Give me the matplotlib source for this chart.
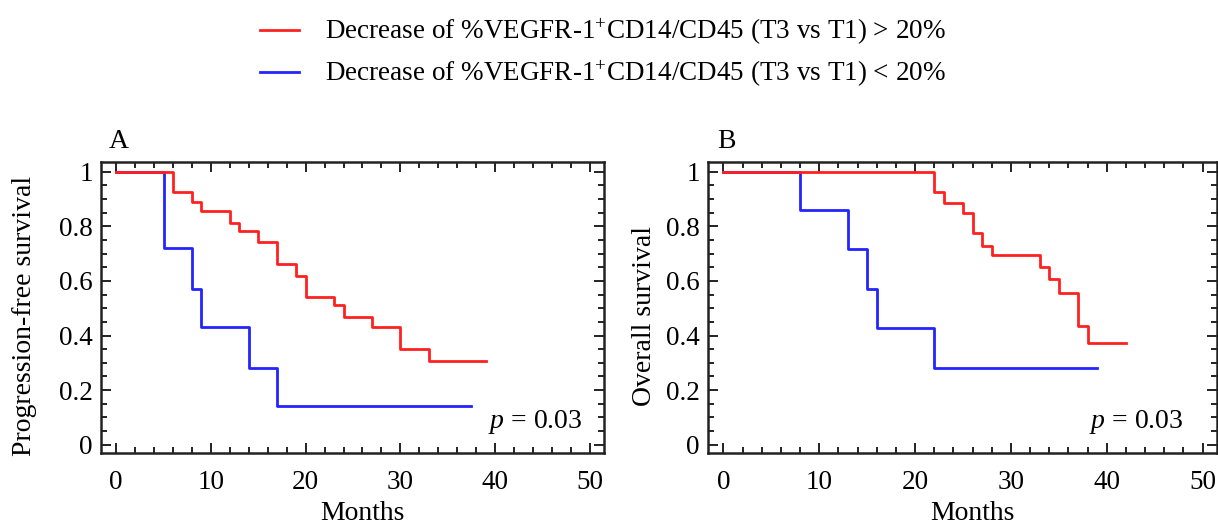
import matplotlib
matplotlib.use("Agg")
import matplotlib.pyplot as plt
from matplotlib.ticker import MultipleLocator, FuncFormatter
from matplotlib.lines import Line2D

plt.rcParams["font.family"] = "Liberation Serif"
plt.rcParams["mathtext.fontset"] = "custom"
plt.rcParams["mathtext.rm"] = "Liberation Serif"
plt.rcParams["mathtext.it"] = "Liberation Serif:italic"

# panel A: progression-free survival (months, survival fraction)
pfs_hi_t = [0, 6, 8, 9, 12, 13, 15, 17, 19, 20, 23, 24, 27, 30, 33, 39]
pfs_hi_s = [1, 0.927, 0.890, 0.854, 0.811, 0.781, 0.744, 0.663, 0.619, 0.541,
            0.511, 0.467, 0.431, 0.350, 0.308, 0.308]
pfs_lo_t = [0, 5, 8, 9, 14, 17, 37.5]
pfs_lo_s = [1, 0.719, 0.571, 0.431, 0.282, 0.142, 0.142]

# panel B: overall survival
os_hi_t = [0, 22, 23, 25, 26, 27, 28, 33, 34, 35, 37, 38, 42]
os_hi_s = [1, 0.927, 0.884, 0.848, 0.774, 0.729, 0.693, 0.649, 0.607, 0.557,
           0.435, 0.373, 0.373]
os_lo_t = [0, 8, 13, 15, 16, 22, 39]
os_lo_s = [1, 0.859, 0.717, 0.571, 0.429, 0.280, 0.280]

labels = [r"Decrease of %VEGFR-1$^{+}$CD14/CD45 (T3 vs T1) > 20%",
          r"Decrease of %VEGFR-1$^{+}$CD14/CD45 (T3 vs T1) < 20%"]
red = "#ff2020"
blue = "#2424ff"

fig = plt.figure(figsize=(12.18, 5.25), dpi=100)
axA = fig.add_axes([101 / 1218, 72 / 525, 503 / 1218, 291 / 525])
axB = fig.add_axes([708 / 1218, 72 / 525, 509 / 1218, 291 / 525])


def style(ax, ylabel, letter, lx, px):
    ax.set_xlim(-1.6, 51.5)
    ax.set_ylim(-0.03, 1.035)
    ax.xaxis.set_major_locator(MultipleLocator(10))
    ax.xaxis.set_minor_locator(MultipleLocator(2))
    ax.yaxis.set_major_locator(MultipleLocator(0.2))
    ax.yaxis.set_minor_locator(MultipleLocator(0.05))
    ax.yaxis.set_major_formatter(FuncFormatter(lambda v, p: "%g" % round(v, 2)))
    ax.tick_params(which="both", direction="in", top=True, right=True,
                   color="#222222", width=1.4, labelsize=19.5)
    ax.tick_params(which="major", length=7)
    ax.tick_params(which="minor", length=4.5)
    ax.tick_params(axis="x", pad=12)
    ax.tick_params(axis="y", pad=6)
    for s in ax.spines.values():
        s.set_linewidth(1.8)
        s.set_color("#222222")
    ax.set_ylabel(ylabel, fontsize=20)
    ax.yaxis.set_label_coords(lx, 0.47)
    ax.set_xlabel("Months", fontsize=20, va="top")
    ax.xaxis.set_label_coords(0.52, -0.165)
    ax.text(0.036, 1.048, letter, transform=ax.transAxes, fontsize=20,
            ha="center", va="baseline")
    ax.text(px, 0.085, "$p$ = 0.03", transform=ax.transAxes, fontsize=20,
            ha="right", va="baseline")


axA.step(pfs_lo_t, pfs_lo_s, where="post", color=blue, lw=2)
axA.step(pfs_hi_t, pfs_hi_s, where="post", color=red, lw=2)
style(axA, "Progression-free survival", "A", -0.128, 0.958)

axB.step(os_lo_t, os_lo_s, where="post", color=blue, lw=2)
axB.step(os_hi_t, os_hi_s, where="post", color=red, lw=2)
style(axB, "Overall survival", "B", -0.10, 0.935)

handles = [Line2D([], [], color=red, lw=2), Line2D([], [], color=blue, lw=2)]
fig.legend(handles, labels, loc="upper left", bbox_to_anchor=(260 / 1218, 1 - 17 / 525),
           frameon=False, fontsize=19.5, handlelength=1.45, handletextpad=0.95,
           labelspacing=0.45, borderpad=0, borderaxespad=0)

fig.savefig("out.png", dpi=100)
